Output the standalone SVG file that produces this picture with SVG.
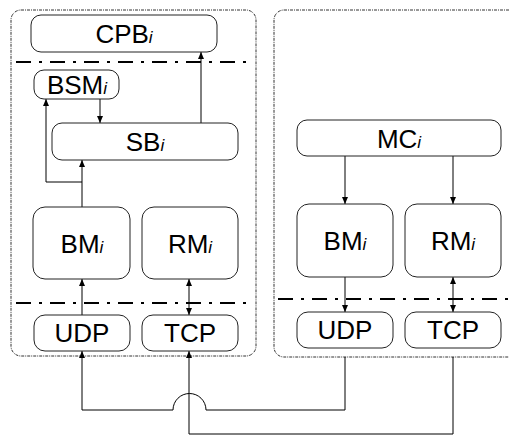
<svg xmlns="http://www.w3.org/2000/svg" width="509" height="435" viewBox="0 0 509 435">
  <defs>
    <marker id="arrow" markerUnits="userSpaceOnUse" markerWidth="8" markerHeight="7" refX="7" refY="3" orient="auto-start-reverse">
      <path d="M0,0 L7,3 L0,6 z" fill="#000"/>
    </marker>
    <style>
      .panel { fill: none; stroke: #333; stroke-width: 1; stroke-dasharray: 3 1 1 1; }
      .layer { fill: none; stroke: #000; stroke-width: 2; stroke-dasharray: 15 8 3 8; }
      .box { fill: #fff; stroke: #222; stroke-width: 1; }
      .lbl { font-family: "Liberation Sans", Arial, sans-serif; font-size: 26px; fill: #000; text-anchor: middle; }
      .sub { font-style: italic; font-size: 17px; }
      .wire { fill: none; stroke: #000; stroke-width: 1; }
      .one { marker-end: url(#arrow); }
      .two { marker-start: url(#arrow); marker-end: url(#arrow); }
    </style>
  </defs>

  <!-- host containers -->
  <rect class="panel" x="11" y="10" width="245" height="346" rx="10"/>
  <rect class="panel" x="274" y="10" width="250" height="347" rx="10"/>

  <!-- layer separators -->
  <line class="layer" x1="16" y1="62" x2="253" y2="62"/>
  <line class="layer" x1="16" y1="303" x2="252" y2="303"/>
  <line class="layer" x1="278" y1="299" x2="509" y2="299"/>

  <g id="connectors">
    <line class="wire one" x1="201" y1="123" x2="201" y2="52"/>
    <line class="wire one" x1="100" y1="99" x2="100" y2="123"/>
    <line class="wire one" x1="82" y1="207" x2="82" y2="160"/>
    <path class="wire one" d="M82,182 H46 V99"/>
    <line class="wire one" x1="82" y1="315" x2="82" y2="279"/>
    <line class="wire two" x1="189" y1="279" x2="189" y2="315"/>
    <line class="wire one" x1="345" y1="156" x2="345" y2="204"/>
    <line class="wire one" x1="453" y1="156" x2="453" y2="204"/>
    <line class="wire one" x1="345" y1="277" x2="345" y2="312"/>
    <line class="wire two" x1="453" y1="277" x2="453" y2="312"/>
    <path class="wire one" d="M345,357 V410 H206 A16.5,16.5 0 0 0 173,410 H82 V351"/>
    <path class="wire one" d="M453,357 V434 H189 V351"/>
  </g>

  <g id="cpb">
    <rect class="box" x="31" y="15" width="186" height="37" rx="10"/>
    <text class="lbl" x="124" y="43">CPB<tspan class="sub">i</tspan></text>
  </g>
  <g id="bsm">
    <rect class="box" x="34" y="70" width="85" height="29" rx="10"/>
    <text class="lbl" x="77" y="94">BSM<tspan class="sub">i</tspan></text>
  </g>
  <g id="sb">
    <rect class="box" x="52" y="123" width="186" height="37" rx="10"/>
    <text class="lbl" x="145" y="151">SB<tspan class="sub">i</tspan></text>
  </g>
  <g id="bm-left">
    <rect class="box" x="33" y="207" width="97" height="72" rx="12"/>
    <text class="lbl" x="82" y="253">BM<tspan class="sub">i</tspan></text>
  </g>
  <g id="rm-left">
    <rect class="box" x="142" y="207" width="96" height="72" rx="12"/>
    <text class="lbl" x="190" y="253">RM<tspan class="sub">i</tspan></text>
  </g>
  <g id="udp-left">
    <rect class="box" x="34" y="315" width="96" height="36" rx="11"/>
    <text class="lbl" x="82" y="342">UDP</text>
  </g>
  <g id="tcp-left">
    <rect class="box" x="142" y="315" width="96" height="36" rx="11"/>
    <text class="lbl" x="190" y="342">TCP</text>
  </g>

  <g id="mc">
    <rect class="box" x="297" y="120" width="204" height="36" rx="10"/>
    <text class="lbl" x="399" y="148">MC<tspan class="sub">i</tspan></text>
  </g>
  <g id="bm-right">
    <rect class="box" x="297" y="204" width="96" height="73" rx="12"/>
    <text class="lbl" x="345" y="250">BM<tspan class="sub">i</tspan></text>
  </g>
  <g id="rm-right">
    <rect class="box" x="405" y="204" width="96" height="73" rx="12"/>
    <text class="lbl" x="453" y="250">RM<tspan class="sub">i</tspan></text>
  </g>
  <g id="udp-right">
    <rect class="box" x="297" y="312" width="96" height="36" rx="11"/>
    <text class="lbl" x="345" y="339">UDP</text>
  </g>
  <g id="tcp-right">
    <rect class="box" x="405" y="312" width="96" height="36" rx="11"/>
    <text class="lbl" x="453" y="339">TCP</text>
  </g>
</svg>
